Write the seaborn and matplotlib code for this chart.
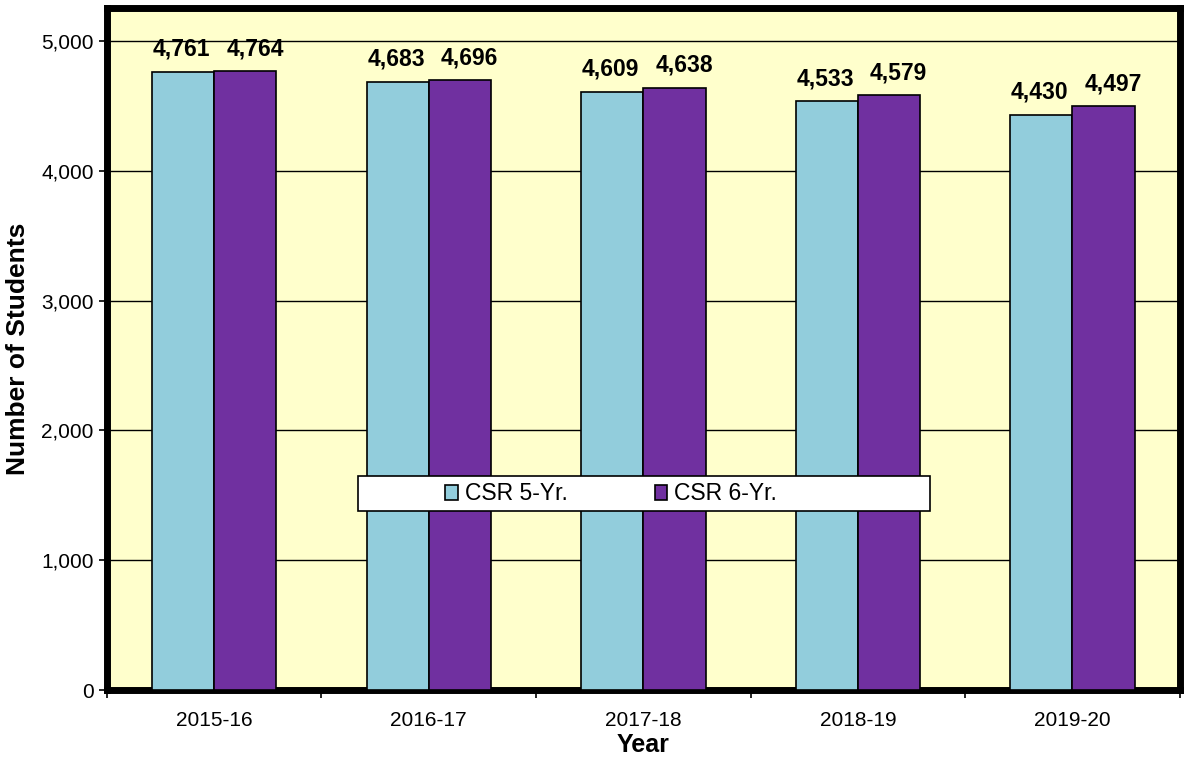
import seaborn as sns
import pandas as pd
import matplotlib.pyplot as plt
from matplotlib.patches import Rectangle
from matplotlib.ticker import FuncFormatter, FixedLocator

years = ['2015-16', '2016-17', '2017-18', '2018-19', '2019-20']
csr_5yr = [4761, 4683, 4609, 4533, 4430]
csr_6yr = [4764, 4696, 4638, 4579, 4497]
series = ['CSR 5-Yr.', 'CSR 6-Yr.']

df = pd.DataFrame({
    'Year': years * 2,
    'Students': csr_5yr + csr_6yr,
    'Series': [series[0]] * len(years) + [series[1]] * len(years),
})

sns.set_style('white')
plt.rcParams['font.family'] = ['Liberation Sans', 'DejaVu Sans']
plt.rcParams['text.color'] = 'black'
plt.rcParams['axes.labelcolor'] = 'black'
plt.rcParams['xtick.color'] = 'black'
plt.rcParams['ytick.color'] = 'black'

fig = plt.figure(figsize=(11.88, 7.6), dpi=100)
ax = fig.add_axes([0.090, 0.092, 0.903, 0.897])
ax.set_facecolor('#FFFFCC')

g = sns.barplot(data=df, x='Year', y='Students', hue='Series', ax=ax,
                palette=['#92CDDC', '#7030A0'], width=0.58, gap=0,
                edgecolor='black', linewidth=1.2, saturation=1)

# value labels, nudged apart a little like the original
for c, dx in zip(ax.containers, [-1, 7]):
    for p, v in zip(c.patches, c.datavalues):
        ax.annotate(f'{v:,.0f}', (p.get_x() + p.get_width() / 2, p.get_height()),
                    xytext=(dx, 8), textcoords='offset points', ha='center', va='bottom',
                    fontsize=16.5, fontweight='bold', color='black')

ax.set_ylim(0, 5250)
ax.set_xlim(-0.5, 4.5)
ax.set_yticks([0, 1000, 2000, 3000, 4000, 5000])
ax.yaxis.set_major_formatter(FuncFormatter(lambda v, p: f'{v:,.0f}'))
ax.grid(axis='y', color='black', linewidth=1)
ax.set_axisbelow(True)

ax.xaxis.set_minor_locator(FixedLocator([-0.5, 0.5, 1.5, 2.5, 3.5, 4.5]))
ax.tick_params(axis='x', which='major', length=0, labelsize=15, pad=15)
ax.tick_params(axis='x', which='minor', length=6, width=1.2, direction='out', bottom=True)
ax.tick_params(axis='y', length=6, width=1.2, direction='out', left=True, labelsize=15)

for s in ax.spines.values():
    s.set_linewidth(5)
    s.set_color('black')
ax.spines['bottom'].set_zorder(0.5)

ax.set_xlabel('Year', fontsize=18, fontweight='bold', labelpad=2)
ax.set_ylabel('Number of Students', fontsize=19, fontweight='bold', labelpad=8)

# white legend band
ax.add_patch(Rectangle((0.234, 0.262), 0.533, 0.052, transform=ax.transAxes,
                       facecolor='white', edgecolor='black', linewidth=1.2, zorder=5))
leg = ax.legend(loc='center', bbox_to_anchor=(0.47, 0.288), ncol=2, fontsize=16.5,
                frameon=False, handlelength=0.55, handleheight=0.65, handletextpad=0.3,
                columnspacing=3.8, borderpad=0.2)
leg.set_zorder(6)
leg.set_title(None)

plt.savefig('out.png', dpi=100)
